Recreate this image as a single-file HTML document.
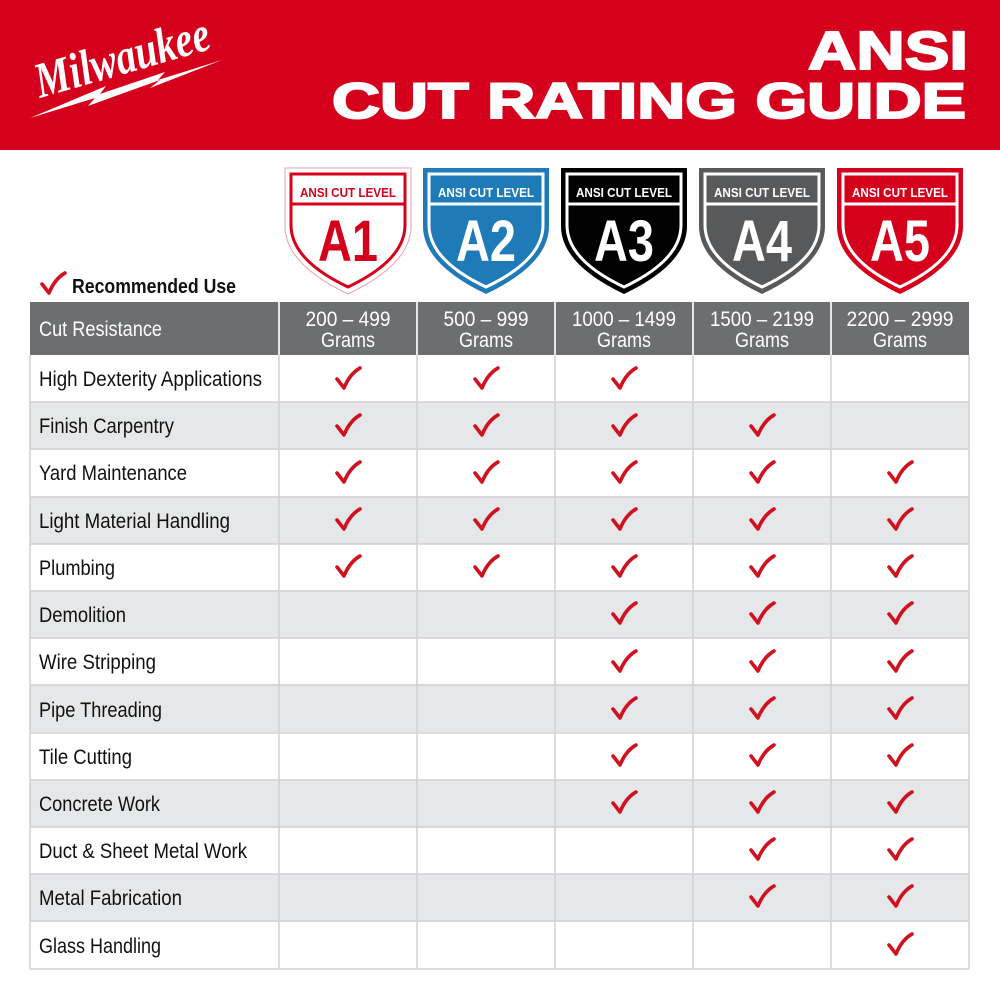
<!DOCTYPE html>
<html><head><meta charset="utf-8"><style>
html,body{margin:0;padding:0;background:#fff;}
svg{display:block;}
text{font-family:"Liberation Sans",sans-serif;}
.t{font-size:21px;fill:#111;}
.h{font-size:21px;fill:#fff;}
.ck{fill:none;stroke:#d0111f;stroke-width:3.6;stroke-linecap:round;stroke-linejoin:round;}
.bt{font-weight:bold;font-size:13px;}
.big{font-weight:bold;font-size:58px;}
</style></head><body>
<svg width="1000" height="1000" viewBox="0 0 1000 1000">
<defs>
<path id="c" class="ck" d="M-11,0 L-4,9 C0,-1 5,-7 12,-11"/>
<path id="sh" d="M0,0 H126 V58 Q126,96 63,126 Q0,96 0,58 Z"/>
<path id="shi" d="M6,6 H120 V57 Q120,92 63,119 Q6,92 6,57 Z"/>
</defs>
<rect x="0" y="0" width="1000" height="150" fill="#d5001c"/>
<!-- logo -->
<g transform="translate(40,98) rotate(-16)">
<text x="0" y="0" style="font-family:'Liberation Serif',serif;font-style:italic;font-weight:bold;font-size:50px;fill:#fff" textLength="180" lengthAdjust="spacingAndGlyphs">Milwaukee</text>
</g>
<polygon points="30,118 95,98 88,106 160,80 150,88 222,60 158,80 165,72 100,94 106,86" fill="#fff"/>
<text x="968" y="69" text-anchor="end" style="font-weight:900;font-size:54px;fill:#fff;stroke:#fff;stroke-width:2" textLength="160" lengthAdjust="spacingAndGlyphs">ANSI</text>
<text x="332" y="118" style="font-weight:900;font-size:50px;fill:#fff;stroke:#fff;stroke-width:2" textLength="634" lengthAdjust="spacingAndGlyphs">CUT RATING GUIDE</text>

<!-- shields -->
<g transform="translate(285,168)">
<use href="#sh" fill="#fff" stroke="#e8a0a8" stroke-width="1"/>
<use href="#shi" fill="none" stroke="#d5001c" stroke-width="3"/>
<line x1="6" y1="36" x2="120" y2="36" stroke="#d5001c" stroke-width="3"/>
<text x="63" y="29" text-anchor="middle" class="bt" style="fill:#d5001c" textLength="96" lengthAdjust="spacingAndGlyphs">ANSI CUT LEVEL</text>
<text x="63" y="93" text-anchor="middle" class="big" style="fill:#d5001c" textLength="60" lengthAdjust="spacingAndGlyphs">A1</text>
</g>
<g transform="translate(423,168)">
<use href="#sh" fill="#1e7bb8"/>
<use href="#shi" fill="none" stroke="#fff" stroke-width="3"/>
<line x1="6" y1="36" x2="120" y2="36" stroke="#fff" stroke-width="3"/>
<text x="63" y="29" text-anchor="middle" class="bt" style="fill:#fff" textLength="96" lengthAdjust="spacingAndGlyphs">ANSI CUT LEVEL</text>
<text x="63" y="93" text-anchor="middle" class="big" style="fill:#fff" textLength="60" lengthAdjust="spacingAndGlyphs">A2</text>
</g>
<g transform="translate(561,168)">
<use href="#sh" fill="#000"/>
<use href="#shi" fill="none" stroke="#fff" stroke-width="3"/>
<line x1="6" y1="36" x2="120" y2="36" stroke="#fff" stroke-width="3"/>
<text x="63" y="29" text-anchor="middle" class="bt" style="fill:#fff" textLength="96" lengthAdjust="spacingAndGlyphs">ANSI CUT LEVEL</text>
<text x="63" y="93" text-anchor="middle" class="big" style="fill:#fff" textLength="60" lengthAdjust="spacingAndGlyphs">A3</text>
</g>
<g transform="translate(699,168)">
<use href="#sh" fill="#58595b"/>
<use href="#shi" fill="none" stroke="#fff" stroke-width="3"/>
<line x1="6" y1="36" x2="120" y2="36" stroke="#fff" stroke-width="3"/>
<text x="63" y="29" text-anchor="middle" class="bt" style="fill:#fff" textLength="96" lengthAdjust="spacingAndGlyphs">ANSI CUT LEVEL</text>
<text x="63" y="93" text-anchor="middle" class="big" style="fill:#fff" textLength="60" lengthAdjust="spacingAndGlyphs">A4</text>
</g>
<g transform="translate(837,168)">
<use href="#sh" fill="#d5001c"/>
<use href="#shi" fill="none" stroke="#fff" stroke-width="3"/>
<line x1="6" y1="36" x2="120" y2="36" stroke="#fff" stroke-width="3"/>
<text x="63" y="29" text-anchor="middle" class="bt" style="fill:#fff" textLength="96" lengthAdjust="spacingAndGlyphs">ANSI CUT LEVEL</text>
<text x="63" y="93" text-anchor="middle" class="big" style="fill:#fff" textLength="60" lengthAdjust="spacingAndGlyphs">A5</text>
</g>

<!-- legend -->
<use href="#c" x="53" y="284"/>
<text x="72" y="293" style="font-size:20px;fill:#111;font-weight:bold" textLength="164" lengthAdjust="spacingAndGlyphs">Recommended Use</text>

<!-- header -->
<rect x="30" y="302" width="939" height="53" fill="#6d6e71"/>
<text x="39" y="336" class="h" textLength="123" lengthAdjust="spacingAndGlyphs">Cut Resistance</text>
<g text-anchor="middle">
<text x="348" y="326" class="h" textLength="85" lengthAdjust="spacingAndGlyphs">200 – 499</text><text x="348" y="347" class="h" textLength="54" lengthAdjust="spacingAndGlyphs">Grams</text>
<text x="486" y="326" class="h" textLength="85" lengthAdjust="spacingAndGlyphs">500 – 999</text><text x="486" y="347" class="h" textLength="54" lengthAdjust="spacingAndGlyphs">Grams</text>
<text x="624" y="326" class="h" textLength="104" lengthAdjust="spacingAndGlyphs">1000 – 1499</text><text x="624" y="347" class="h" textLength="54" lengthAdjust="spacingAndGlyphs">Grams</text>
<text x="762" y="326" class="h" textLength="104" lengthAdjust="spacingAndGlyphs">1500 – 2199</text><text x="762" y="347" class="h" textLength="54" lengthAdjust="spacingAndGlyphs">Grams</text>
<text x="900" y="326" class="h" textLength="107" lengthAdjust="spacingAndGlyphs">2200 – 2999</text><text x="900" y="347" class="h" textLength="54" lengthAdjust="spacingAndGlyphs">Grams</text>
</g>

<!-- row backgrounds -->
<g fill="#e6e7e8">
<rect x="30" y="402" width="939" height="47"/>
<rect x="30" y="497" width="939" height="47"/>
<rect x="30" y="591" width="939" height="47"/>
<rect x="30" y="685" width="939" height="47"/>
<rect x="30" y="780" width="939" height="47"/>
<rect x="30" y="874" width="939" height="47"/>
</g>
<!-- grid -->
<g stroke="#d0d1d3" stroke-width="1.5">
<line x1="30" y1="355" x2="30" y2="969"/>
<line x1="969" y1="355" x2="969" y2="969"/>
<line x1="279" y1="302" x2="279" y2="969"/>
<line x1="417" y1="302" x2="417" y2="969"/>
<line x1="555" y1="302" x2="555" y2="969"/>
<line x1="693" y1="302" x2="693" y2="969"/>
<line x1="831" y1="302" x2="831" y2="969"/>
<line x1="30" y1="402" x2="969" y2="402"/>
<line x1="30" y1="449" x2="969" y2="449"/>
<line x1="30" y1="497" x2="969" y2="497"/>
<line x1="30" y1="544" x2="969" y2="544"/>
<line x1="30" y1="591" x2="969" y2="591"/>
<line x1="30" y1="638" x2="969" y2="638"/>
<line x1="30" y1="685" x2="969" y2="685"/>
<line x1="30" y1="733" x2="969" y2="733"/>
<line x1="30" y1="780" x2="969" y2="780"/>
<line x1="30" y1="827" x2="969" y2="827"/>
<line x1="30" y1="874" x2="969" y2="874"/>
<line x1="30" y1="921" x2="969" y2="921"/>
<line x1="30" y1="969" x2="969" y2="969"/>
</g>
<g stroke="#fff" stroke-width="1.5">
<line x1="279" y1="302" x2="279" y2="355"/><line x1="417" y1="302" x2="417" y2="355"/><line x1="555" y1="302" x2="555" y2="355"/><line x1="693" y1="302" x2="693" y2="355"/><line x1="831" y1="302" x2="831" y2="355"/>
</g>

<!-- labels -->
<text x="39" y="386" class="t" textLength="223" lengthAdjust="spacingAndGlyphs">High Dexterity Applications</text>
<text x="39" y="433" class="t" textLength="135" lengthAdjust="spacingAndGlyphs">Finish Carpentry</text>
<text x="39" y="480" class="t" textLength="148" lengthAdjust="spacingAndGlyphs">Yard Maintenance</text>
<text x="39" y="528" class="t" textLength="191" lengthAdjust="spacingAndGlyphs">Light Material Handling</text>
<text x="39" y="575" class="t" textLength="76" lengthAdjust="spacingAndGlyphs">Plumbing</text>
<text x="39" y="622" class="t" textLength="87" lengthAdjust="spacingAndGlyphs">Demolition</text>
<text x="39" y="669" class="t" textLength="117" lengthAdjust="spacingAndGlyphs">Wire Stripping</text>
<text x="39" y="717" class="t" textLength="123" lengthAdjust="spacingAndGlyphs">Pipe Threading</text>
<text x="39" y="764" class="t" textLength="93" lengthAdjust="spacingAndGlyphs">Tile Cutting</text>
<text x="39" y="811" class="t" textLength="121" lengthAdjust="spacingAndGlyphs">Concrete Work</text>
<text x="39" y="858" class="t" textLength="208" lengthAdjust="spacingAndGlyphs">Duct &amp; Sheet Metal Work</text>
<text x="39" y="905" class="t" textLength="143" lengthAdjust="spacingAndGlyphs">Metal Fabrication</text>
<text x="39" y="953" class="t" textLength="122" lengthAdjust="spacingAndGlyphs">Glass Handling</text>

<!-- checks -->
<use href="#c" x="348" y="379"/><use href="#c" x="486" y="379"/><use href="#c" x="624" y="379"/>
<use href="#c" x="348" y="426"/><use href="#c" x="486" y="426"/><use href="#c" x="624" y="426"/><use href="#c" x="762" y="426"/>
<use href="#c" x="348" y="473"/><use href="#c" x="486" y="473"/><use href="#c" x="624" y="473"/><use href="#c" x="762" y="473"/><use href="#c" x="900" y="473"/>
<use href="#c" x="348" y="520"/><use href="#c" x="486" y="520"/><use href="#c" x="624" y="520"/><use href="#c" x="762" y="520"/><use href="#c" x="900" y="520"/>
<use href="#c" x="348" y="567"/><use href="#c" x="486" y="567"/><use href="#c" x="624" y="567"/><use href="#c" x="762" y="567"/><use href="#c" x="900" y="567"/>
<use href="#c" x="624" y="614"/><use href="#c" x="762" y="614"/><use href="#c" x="900" y="614"/>
<use href="#c" x="624" y="662"/><use href="#c" x="762" y="662"/><use href="#c" x="900" y="662"/>
<use href="#c" x="624" y="709"/><use href="#c" x="762" y="709"/><use href="#c" x="900" y="709"/>
<use href="#c" x="624" y="756"/><use href="#c" x="762" y="756"/><use href="#c" x="900" y="756"/>
<use href="#c" x="624" y="803"/><use href="#c" x="762" y="803"/><use href="#c" x="900" y="803"/>
<use href="#c" x="762" y="850"/><use href="#c" x="900" y="850"/>
<use href="#c" x="762" y="897"/><use href="#c" x="900" y="897"/>
<use href="#c" x="900" y="945"/>
</svg>
</body></html>
